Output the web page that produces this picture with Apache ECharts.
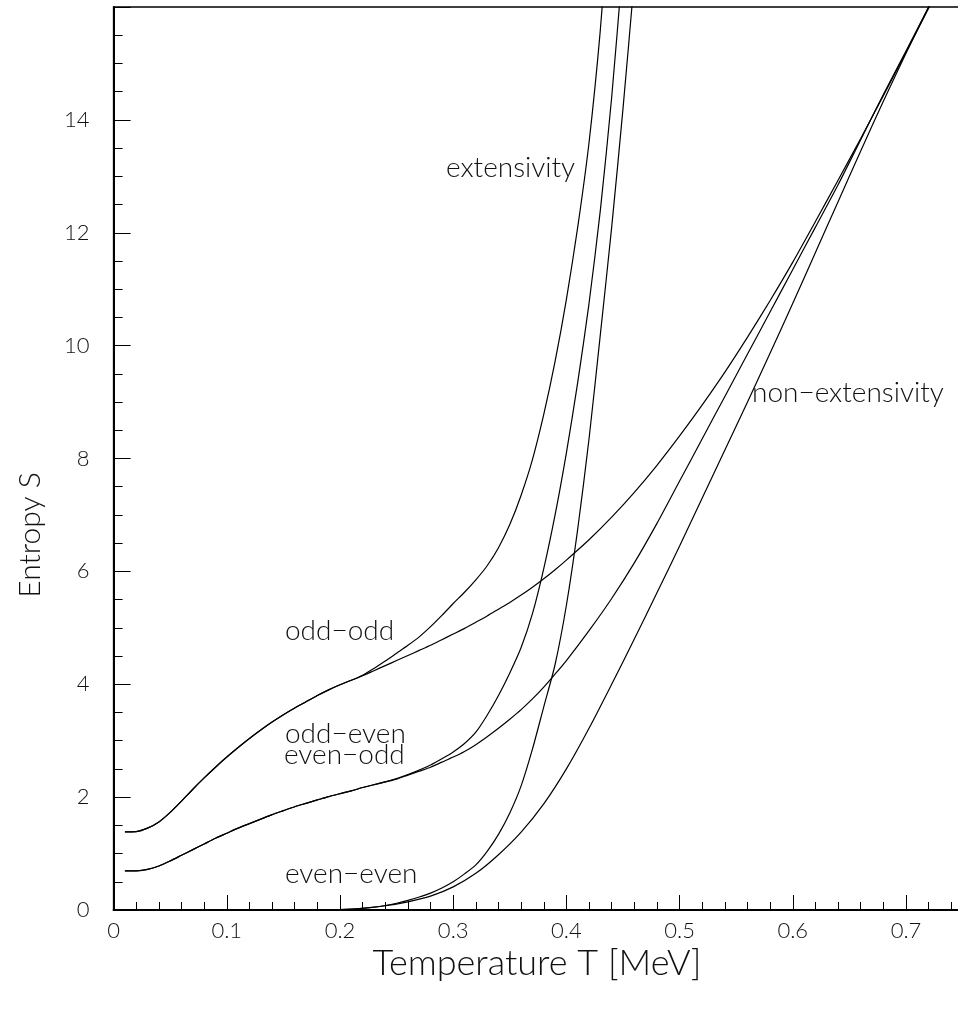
<!DOCTYPE html>
<html>
<head>
<meta charset="utf-8">
<script src="https://cdn.jsdelivr.net/npm/echarts@6/dist/echarts.min.js"></script>
<style>
html,body{margin:0;padding:0;background:#fff;overflow:hidden;}
#chart{width:963px;height:1009px;}
</style>
</head>
<body>
<div id="chart"></div>
<script>
// ---- data (Temperature T [MeV], Entropy S) ----
var oddOddExtT = [0.01,0.02,0.03,0.04,0.05,0.06,0.07,0.08,0.09,0.10,0.11,0.12,0.13,0.14,0.15,0.16,0.17,0.18,0.19,0.20,0.21,0.22,0.23,0.24,0.25,0.26,0.27,0.28,0.29,0.30,0.31,0.32,0.33,0.34,0.35,0.36,0.37,0.38,0.39,0.40,0.41,0.42,0.43,0.44];
var oddOddExtS = [1.386,1.39,1.45,1.56,1.73,1.93,2.14,2.34,2.53,2.71,2.88,3.04,3.19,3.33,3.46,3.58,3.69,3.8,3.9,3.99,4.07,4.16,4.28,4.41,4.55,4.69,4.84,5.02,5.22,5.43,5.63,5.85,6.1,6.42,6.83,7.35,7.98,8.78,9.72,10.82,12.1,13.6,15.6,18.2];

var oddOddNonT = [0.01,0.02,0.03,0.04,0.05,0.06,0.07,0.08,0.09,0.10,0.11,0.12,0.13,0.14,0.15,0.16,0.17,0.18,0.19,0.20,0.21,0.22,0.23,0.24,0.25,0.26,0.27,0.28,0.29,0.30,0.31,0.32,0.33,0.34,0.35,0.36,0.37,0.38,0.39,0.40,0.42,0.44,0.46,0.48,0.50,0.52,0.54,0.56,0.58,0.60,0.62,0.64,0.66,0.68,0.70,0.72,0.73];
var oddOddNonS = [1.386,1.39,1.45,1.56,1.73,1.93,2.14,2.34,2.53,2.71,2.88,3.04,3.19,3.33,3.46,3.58,3.69,3.8,3.9,3.99,4.07,4.15,4.24,4.33,4.42,4.51,4.6,4.69,4.79,4.89,4.99,5.1,5.21,5.33,5.45,5.58,5.72,5.87,6.03,6.2,6.56,6.96,7.4,7.88,8.4,8.95,9.53,10.15,10.8,11.48,12.2,12.93,13.67,14.43,15.2,15.98,16.37];

var oddEvenExtT = [0.01,0.02,0.03,0.04,0.05,0.06,0.07,0.08,0.09,0.10,0.11,0.12,0.13,0.14,0.15,0.16,0.17,0.18,0.19,0.20,0.21,0.22,0.23,0.24,0.25,0.26,0.27,0.28,0.29,0.30,0.31,0.32,0.33,0.34,0.35,0.36,0.37,0.38,0.39,0.40,0.41,0.42,0.43,0.44,0.45];
var oddEvenExtS = [0.693,0.695,0.72,0.78,0.87,0.97,1.07,1.17,1.27,1.36,1.45,1.53,1.61,1.69,1.76,1.83,1.89,1.95,2.01,2.06,2.11,2.17,2.22,2.27,2.33,2.4,2.48,2.57,2.68,2.8,2.95,3.15,3.45,3.8,4.2,4.65,5.25,6.05,7.0,8.1,9.35,10.75,12.4,14.4,16.8];

var oddEvenNonT = [0.01,0.02,0.03,0.04,0.05,0.06,0.07,0.08,0.09,0.10,0.11,0.12,0.13,0.14,0.15,0.16,0.17,0.18,0.19,0.20,0.21,0.22,0.23,0.24,0.25,0.26,0.27,0.28,0.29,0.30,0.31,0.32,0.33,0.34,0.35,0.36,0.37,0.38,0.39,0.40,0.42,0.44,0.46,0.48,0.50,0.52,0.54,0.56,0.58,0.60,0.62,0.64,0.66,0.68,0.70,0.72,0.73];
var oddEvenNonS = [0.693,0.695,0.72,0.78,0.87,0.97,1.07,1.17,1.27,1.36,1.45,1.53,1.61,1.69,1.76,1.83,1.89,1.95,2.01,2.06,2.11,2.17,2.22,2.27,2.32,2.39,2.46,2.53,2.62,2.71,2.81,2.93,3.07,3.22,3.38,3.55,3.74,3.95,4.18,4.42,4.95,5.52,6.15,6.85,7.6,8.35,9.1,9.85,10.6,11.35,12.1,12.85,13.65,14.45,15.22,16.0,16.4];

var evenEvenExtT = [0.01,0.10,0.18,0.19,0.20,0.21,0.22,0.23,0.24,0.25,0.26,0.27,0.28,0.29,0.30,0.31,0.32,0.33,0.34,0.35,0.36,0.37,0.38,0.39,0.40,0.41,0.42,0.43,0.44,0.45,0.46,0.465];
var evenEvenExtS = [0,0,0,0.002,0.006,0.015,0.03,0.05,0.08,0.12,0.17,0.23,0.3,0.39,0.5,0.64,0.8,1.04,1.34,1.72,2.2,2.85,3.6,4.35,5.4,6.75,8.35,10.2,12.1,14.2,16.5,17.7];

var evenEvenNonT = [0.01,0.10,0.18,0.19,0.20,0.22,0.24,0.26,0.28,0.30,0.32,0.34,0.36,0.38,0.40,0.42,0.44,0.46,0.48,0.50,0.52,0.54,0.56,0.58,0.60,0.62,0.64,0.66,0.68,0.70,0.72,0.73];
var evenEvenNonS = [0,0,0,0.002,0.005,0.028,0.075,0.145,0.245,0.41,0.65,0.98,1.38,1.88,2.5,3.22,4.0,4.8,5.62,6.45,7.3,8.15,9.0,9.87,10.75,11.65,12.55,13.45,14.33,15.18,16.0,16.4];

var curveNames = ['odd-odd ext','odd-odd non','odd-even ext','odd-even non','even-even ext','even-even non'];
var curveT = [oddOddExtT, oddOddNonT, oddEvenExtT, oddEvenNonT, evenEvenExtT, evenEvenNonT];
var curveS = [oddOddExtS, oddOddNonS, oddEvenExtS, oddEvenNonS, evenEvenExtS, evenEvenNonS];

var xTitle = 'Temperature T [MeV]';
var yTitle = 'Entropy S';
var annotations = [
  {text:'extensivity',         x:446, y:168},
  {text:'non\u2212extensivity', x:752, y:393},
  {text:'odd\u2212odd',        x:285, y:631},
  {text:'odd\u2212even',       x:285, y:734},
  {text:'even\u2212odd',       x:284, y:755},
  {text:'even\u2212even',      x:285, y:874}
];

var FONT = 'Lato, "DejaVu Sans", sans-serif';

function pairs(ts, ss){ var out=[]; for(var i=0;i<ts.length;i++){ out.push([ts[i], ss[i]]); } return out; }

var series = curveNames.map(function(n, i){
  return {
    name: n, type: 'line', data: pairs(curveT[i], curveS[i]),
    showSymbol: false, symbol: 'none', smooth: 0.25, clip: true,
    lineStyle: {color: '#000', width: 1.2},
    animation: false
  };
});

var graphics = annotations.map(function(a){
  return {type:'text', x: a.x, y: a.y, style:{text:a.text, font:'300 28px '+FONT, fill:'#111', textAlign:'left', textVerticalAlign:'middle'}, silent:true};
});
graphics.push({type:'text', x: 537, y: 963, style:{text:xTitle, font:'300 36px '+FONT, fill:'#111', textAlign:'center', textVerticalAlign:'middle'}});
graphics.push({type:'text', x: 30, y: 535, rotation: Math.PI/2, style:{text:yTitle, font:'300 30px '+FONT, fill:'#111', textAlign:'center', textVerticalAlign:'middle'}});

var chart = echarts.init(document.getElementById('chart'), null, {renderer:'canvas'});
chart.setOption({
  animation: false,
  backgroundColor: '#fff',
  grid: {left: 113.6, top: 7, right: 0.4, bottom: 99, show: true, borderColor: '#000', borderWidth: 1.5, backgroundColor:'transparent'},
  xAxis: {
    type: 'value', min: 0, max: 0.75, interval: 0.1,
    axisLine: {show: true, onZero: false, lineStyle: {color: '#000', width: 2}},
    axisTick: {show: true, inside: true, length: 15, lineStyle: {color: '#000', width: 1}},
    minorTick: {show: true, splitNumber: 5, length: 8, lineStyle: {color: '#000', width: 1}},
    splitLine: {show: false},
    axisLabel: {margin: 10, color: '#111', fontSize: 22, fontFamily: FONT, fontWeight: 300, showMaxLabel: false,
      formatter: function(v){ return v === 0 ? '0' : v.toFixed(1); }}
  },
  yAxis: {
    type: 'value', min: 0, max: 16, interval: 2,
    axisLine: {show: true, onZero: false, lineStyle: {color: '#000', width: 2}},
    axisTick: {show: true, inside: true, length: 17, lineStyle: {color: '#000', width: 1}},
    minorTick: {show: true, splitNumber: 4, length: 9, lineStyle: {color: '#000', width: 1}},
    splitLine: {show: false},
    axisLabel: {margin: 24, color: '#111', fontSize: 22, fontFamily: FONT, fontWeight: 300, showMaxLabel: false}
  },
  series: series,
  graphic: graphics
});
</script>
</body>
</html>
